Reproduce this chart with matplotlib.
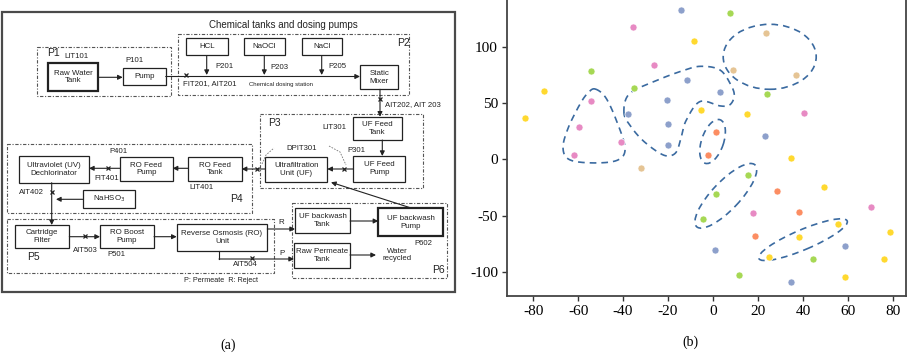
import numpy as np
import matplotlib
matplotlib.use('Agg')
import matplotlib.pyplot as plt
from matplotlib.patches import Rectangle, Ellipse
from matplotlib.transforms import ScaledTranslation

plt.rcParams['axes.unicode_minus'] = False

# ---------------- scatter data (panel b) ----------------
green_x = [7.7, -54.1, -35.1, 23.9, 15.4, 1.5, -4.4, 44.3, 11.4]
green_y = [130.3, 79.1, 63.5, 58.4, -13.8, -30.4, -52.8, -89.0, -102.7]
pink_x = [-35.4, -26.1, -54.1, 40.3, -59.6, -40.7, -61.8, 17.8, 70.4]
pink_y = [118.0, 84.5, 52.4, 41.7, 28.7, 15.3, 3.7, -47.4, -42.6]
blue_x = [-14.4, -11.4, -20.4, 3.3, -37.6, -20.0, 23.1, -19.9, 58.8, 0.7, 34.8]
blue_y = [133.0, 70.6, 53.0, 59.9, 40.8, 31.6, 21.2, 12.7, -77.1, -80.7, -109.2]
orange_x = [1.2, -2.1, 28.3, 38.2, 18.7]
orange_y = [24.5, 3.7, -28.4, -46.8, -68.2]
yellow_x = [-8.6, -75.2, -5.5, -83.4, 15.0, 34.5, 49.2, 55.7, 78.5, 38.4, 25.0, 76.0, 58.5]
yellow_y = [105.3, 61.3, 44.4, 37.0, 40.3, 1.1, -24.5, -57.5, -64.9, -68.8, -86.6, -89.0, -104.7]
tan_x = [23.6, 8.9, 37.0, -31.9]
tan_y = [112.7, 80.0, 75.3, -7.9]

x_ticks = [-80, -60, -40, -20, 0, 20, 40, 60, 80]
y_ticks = [-100, -50, 0, 50, 100]

# cluster outlines (data units for blobs)
blob_a = [(-52.4, 62.8), (-47.6, 54.8), (-42.7, 33.4), (-39.1, 10.2), (-42.2, -0.4),
          (-52.4, -3.1), (-63.6, -0.4), (-66.7, 10.2), (-64.4, 28.1), (-59.1, 49.5),
          (-55.6, 59.3)]
blob_b = [(-39.6, 41.4), (-37.2, 58.5), (-25.5, 70.0), (-14.7, 78.3), (-5.8, 83.0),
          (3.2, 79.6), (8.3, 65.0), (9.4, 56.0), (7.4, 48.6), (3.2, 47.7),
          (-5.8, 51.6), (-11.9, 35.0), (-14.1, 20.1), (-16.3, 6.7), (-20.1, 3.1),
          (-24.6, 6.7), (-31.3, 17.1), (-36.4, 29.0)]
# ellipses: centre (data), width/height in pixels, angle in degrees (screen)
ellipses = [((25.2, 91.5), 93, 65, 0), ((-0.2, 16.0), 46, 22, 71),
            ((5.7, -32.4), 85, 28, 46.6), ((40.0, -71.5), 96, 20, 23)]

# ---------------- diagram layout (panel a, pixel units) ----------------
boxes = [
    (48.3, 63.3, 97.7, 90.7, "Raw Water\nTank", 1.6),
    (122.7, 68.3, 165.7, 85.3, "Pump", 0.9),
    (185.7, 37.7, 227.7, 55.5, "HCL", 0.9),
    (244.0, 37.7, 285.0, 55.5, "NaOCl", 0.9),
    (301.7, 37.7, 341.7, 55.5, "NaCl", 0.9),
    (360.0, 65.0, 398.3, 89.3, "Static\nMixer", 0.9),
    (352.7, 116.7, 401.7, 140.0, "UF Feed\nTank", 0.9),
    (353.3, 156.0, 405.0, 181.7, "UF Feed\nPump", 0.9),
    (265.0, 156.7, 327.3, 181.7, "Ultrafiltration\nUnit (UF)", 0.9),
    (188.3, 157.3, 241.7, 180.7, "RO Feed\nTank", 0.9),
    (120.0, 157.3, 172.7, 180.7, "RO Feed\nPump", 0.9),
    (19.0, 155.7, 89.0, 182.7, "Ultraviolet (UV)\nDechlorinator", 0.9),
    (82.7, 190.0, 135.0, 207.7, r"NaHSO$_3$", 0.9),
    (15.0, 225.0, 69.3, 248.3, "Cartridge\nFilter", 0.9),
    (100.0, 225.0, 154.0, 248.3, "RO Boost\nPump", 0.9),
    (176.7, 224.0, 267.3, 250.7, "Reverse Osmosis (RO)\nUnit", 0.9),
    (295.0, 208.3, 350.0, 233.3, "UF backwash\nTank", 0.9),
    (378.3, 208.3, 442.7, 236.0, "UF backwash\nPump", 1.6),
    (294.0, 242.7, 350.0, 268.3, "Raw Permeate\nTank", 0.9),
]
regions = [
    (36.7, 46.7, 170.7, 96.0), (178.3, 34.3, 409.3, 95.0), (260.0, 114.3, 423.3, 187.7),
    (7.3, 144.3, 252.3, 213.0), (7.3, 219.0, 274.0, 273.3), (291.7, 203.3, 446.7, 278.3),
]
arrows = [
    [(97.7, 77.3), (122.7, 77.3)],
    [(165.7, 76.5), (360.0, 76.5)],
    [(206.7, 55.5), (206.7, 75.0)],
    [(264.3, 55.5), (264.3, 75.0)],
    [(321.7, 55.5), (321.7, 75.0)],
    [(380.0, 89.3), (380.0, 116.7)],
    [(382.3, 140.0), (382.3, 156.0)],
    [(353.3, 169.0), (327.3, 169.0)],
    [(265.0, 169.0), (241.7, 169.0)],
    [(188.3, 168.3), (172.7, 168.3)],
    [(120.0, 168.3), (89.0, 168.3)],
    [(51.7, 182.7), (51.7, 225.0)],
    [(82.7, 199.3), (56.0, 199.3)],
    [(69.3, 236.7), (100.0, 236.7)],
    [(154.0, 236.7), (176.7, 236.7)],
    [(267.3, 229.0), (295.0, 229.0)],
    [(219.0, 250.7), (219.0, 259.0), (294.0, 259.0)],
    [(350.0, 221.0), (378.3, 221.0)],
    [(350.0, 255.0), (376.0, 255.0)],
    [(412.0, 208.3), (331.0, 182.3)],
]
xmarks = [(185.7, 75.0), (380.0, 99.3), (344.0, 168.5), (257.3, 168.5), (107.7, 167.8),
          (51.7, 191.8), (85.0, 236.2), (252.3, 257.8)]
labels = [
    (46.7, 52.7, "P1", 'left', 7.5), (76.7, 56.7, "LIT101", 'center', 5.6),
    (134.0, 60.7, "P101", 'center', 5.6), (183.3, 83.5, "FIT201, AIT201", 'left', 5.6),
    (215.0, 66.7, "P201", 'left', 5.6), (270.7, 67.7, "P203", 'left', 5.6),
    (328.3, 67.0, "P205", 'left', 5.6), (249.3, 84.2, "Chemical dosing station", 'left', 4.3),
    (283.3, 25.0, "Chemical tanks and dosing pumps", 'center', 7),
    (403.3, 43.3, "P2", 'center', 7.5), (385.0, 104.3, "AIT202, AIT 203", 'left', 5.6),
    (268.0, 123.3, "P3", 'left', 7.5), (334.3, 127.7, "LIT301", 'center', 5.6),
    (356.7, 150.7, "P301", 'center', 5.6), (301.7, 148.3, "DPIT301", 'center', 5.6),
    (118.3, 151.2, "P401", 'center', 5.6), (106.7, 178.3, "FIT401", 'center', 5.6),
    (201.7, 187.3, "LIT401", 'center', 5.6), (31.7, 192.3, "AIT402", 'center', 5.6),
    (236.0, 199.3, "P4", 'center', 7.5), (33.3, 256.7, "P5", 'center', 7.5),
    (85.0, 250.0, "AIT503", 'center', 5.6), (116.7, 255.0, "P501", 'center', 5.6),
    (245.7, 265.0, "AIT504", 'center', 5.6), (281.7, 222.3, "R", 'center', 5.8),
    (281.7, 253.3, "P", 'center', 5.8), (423.3, 243.3, "P602", 'center', 5.6),
    (397.3, 255.0, "Water\nrecycled", 'center', 5.6), (438.3, 270.0, "P6", 'center', 7.5),
    (220.7, 280.7, "P: Permeate  R: Reject", 'center', 5.2),
]
outer = (2.3, 12.0, 455.0, 291.7)

DIAG = ['Liberation Sans Narrow', 'Liberation Sans', 'DejaVu Sans']
SERIF = ['Liberation Serif', 'DejaVu Serif']

fig = plt.figure(figsize=(9.10, 3.57), dpi=100)

# ---------------- panel (a) ----------------
axd = fig.add_axes([0, 0, 500 / 910, 1])
axd.set_xlim(0, 500)
axd.set_ylim(357, 0)
axd.axis('off')

x0, y0, x1, y1 = outer
axd.add_patch(Rectangle((x0, y0), x1 - x0, y1 - y0, fill=False, ec='#4a4a4a', lw=1.6))

for (a, b, c, d) in regions:
    axd.add_patch(Rectangle((a, b), c - a, d - b, fill=False, ec='#555555', lw=0.8,
                            ls=(0, (3, 1.5, 1, 1.5))))

for (a, b, c, d, t, lw) in boxes:
    axd.add_patch(Rectangle((a, b), c - a, d - b, fill=False, ec='#222222', lw=lw))
    axd.text((a + c) / 2, (b + d) / 2, t, ha='center', va='center', fontsize=5.7,
             family=DIAG, color='#222222', linespacing=1.15)

for pts in arrows:
    if len(pts) > 2:
        xs = [p[0] for p in pts[:-1]]
        ys = [p[1] for p in pts[:-1]]
        axd.plot(xs, ys, color='#222222', lw=0.8)
    axd.annotate('', xy=pts[-1], xytext=pts[-2],
                 arrowprops=dict(arrowstyle='-|>', color='#222222', lw=0.8,
                                 mutation_scale=7, shrinkA=0, shrinkB=0))

for (mx, my) in xmarks:
    axd.plot(mx, my, marker='x', ms=3.2, mew=0.9, color='#222222')

for (tx, ty, t, ha, fs) in labels:
    axd.text(tx, ty, t, ha=ha, va='center', fontsize=fs, family=DIAG, color='#222222',
             linespacing=1.1)

# DPIT301 dashed differential pressure links
axd.plot([262, 266, 274], [164, 155, 148], color='#777777', lw=0.6, ls=(0, (2, 1.5)))
axd.plot([329, 340, 346], [146, 152, 165], color='#777777', lw=0.6, ls=(0, (2, 1.5)))

fig.text(228 / 910, 1 - 345 / 357, "(a)", ha='center', va='center', fontsize=10,
         family=SERIF)

# ---------------- panel (b) ----------------
ax = fig.add_axes([507 / 910, 61 / 357, 399 / 910, 299 / 357])
ax.set_xlim(-91.6, 85.8)
ax.set_ylim(-121.7, 144.8)

cols = {'green': '#a6d854', 'pink': '#e78ac3', 'blue': '#8da0cb',
        'orange': '#fc8d62', 'yellow': '#ffd92f', 'tan': '#e5c494'}
series = [(green_x, green_y, 'green'), (pink_x, pink_y, 'pink'), (blue_x, blue_y, 'blue'),
          (orange_x, orange_y, 'orange'), (yellow_x, yellow_y, 'yellow'),
          (tan_x, tan_y, 'tan')]
for xs, ys, c in series:
    ax.scatter(xs, ys, s=26, c=cols[c], edgecolors='white', linewidths=0.5, zorder=3)

OUT = '#3a6aa0'


def closed_spline(pts, n=24):
    p = np.array(pts, dtype=float)
    m = len(p)
    out = []
    for i in range(m):
        p0, p1, p2, p3 = p[(i - 1) % m], p[i], p[(i + 1) % m], p[(i + 2) % m]
        t = np.linspace(0, 1, n, endpoint=False)[:, None]
        seg = 0.5 * ((2 * p1) + (-p0 + p2) * t + (2 * p0 - 5 * p1 + 4 * p2 - p3) * t ** 2
                     + (-p0 + 3 * p1 - 3 * p2 + p3) * t ** 3)
        out.append(seg)
    out = np.vstack(out)
    return np.vstack([out, out[:1]])


for blob in (blob_a, blob_b):
    c = closed_spline(blob)
    ax.plot(c[:, 0], c[:, 1], color=OUT, lw=1.2, ls=(0, (4, 3)), zorder=2)

for (cx, cy), w, h, ang in ellipses:
    tr = fig.dpi_scale_trans + ScaledTranslation(cx, cy, ax.transData)
    ax.add_patch(Ellipse((0, 0), w / 100, h / 100, angle=ang, transform=tr, fill=False,
                         ec=OUT, lw=1.2, ls=(0, (4, 3)), zorder=2))

ax.set_xticks(x_ticks)
ax.set_yticks(y_ticks)
ax.set_xticklabels([str(v) for v in x_ticks])
ax.set_yticklabels([str(v) for v in y_ticks])
for lab in ax.get_xticklabels() + ax.get_yticklabels():
    lab.set_family(SERIF)
    lab.set_fontsize(11)
ax.tick_params(direction='out', length=3.5, width=1, color='#333333', pad=3)
ax.spines['top'].set_visible(False)
for s in ('left', 'bottom', 'right'):
    ax.spines[s].set_color('#444444')
    ax.spines[s].set_linewidth(1.3)

fig.text(690 / 910, 1 - 342 / 357, "(b)", ha='center', va='center', fontsize=10,
         family=SERIF)

fig.savefig('out.png', dpi=100)
